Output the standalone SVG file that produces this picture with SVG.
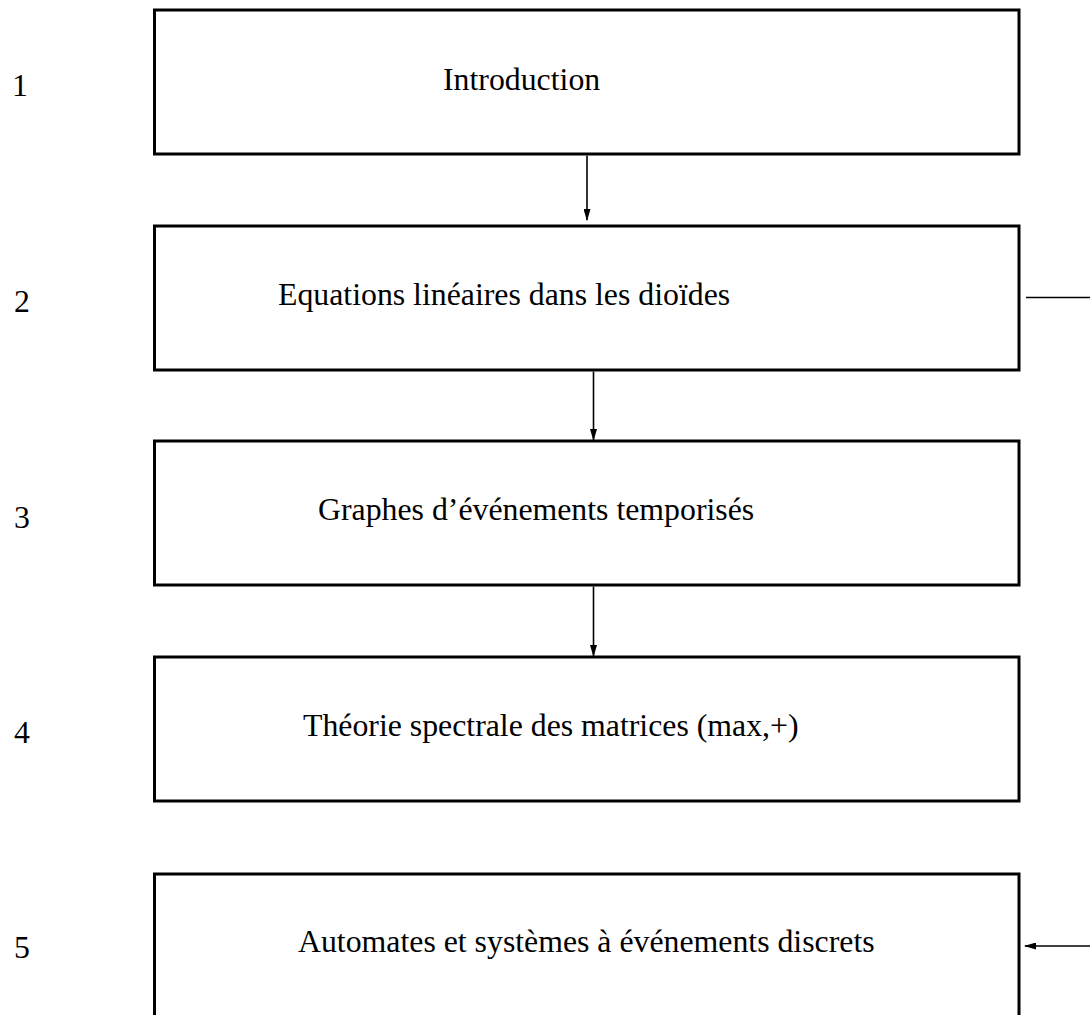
<svg xmlns="http://www.w3.org/2000/svg" width="1090" height="1015" viewBox="0 0 1090 1015">
<defs>
<style>
.box{fill:#fff;stroke:#000;stroke-width:3}
.t{font-family:"Liberation Serif","Times New Roman",serif;font-size:31.8px;fill:#000}
.c{stroke:#000;stroke-width:1.6;fill:none}
</style>
<marker id="ah" markerWidth="12" markerHeight="7" refX="11" refY="3.5" orient="auto" markerUnits="userSpaceOnUse" viewBox="0 0 12 7">
<path d="M0,0 L12,3.5 L0,7 Z" fill="#000"/>
</marker>
</defs>
<rect width="1090" height="1015" fill="#fff"/>
<g id="n1"><rect class="box" x="154.5" y="10" width="864.5" height="144"/><text class="t" x="443" y="90">Introduction</text></g>
<g id="n2"><rect class="box" x="154.5" y="226" width="864.5" height="144"/><text class="t" x="278" y="305">Equations linéaires dans les dioïdes</text></g>
<g id="n3"><rect class="box" x="154.5" y="441" width="864.5" height="144"/><text class="t" x="318" y="520">Graphes d’événements temporisés</text></g>
<g id="n4"><rect class="box" x="154.5" y="657" width="864.5" height="144"/><text class="t" x="303" y="736">Théorie spectrale des matrices (max,+)</text></g>
<g id="n5"><rect class="box" x="154.5" y="874" width="864.5" height="160"/><text class="t" x="298" y="952">Automates et systèmes à événements discrets</text></g>
<g id="labels">
<text class="t" x="12" y="96">1</text>
<text class="t" x="14" y="312">2</text>
<text class="t" x="14" y="528">3</text>
<text class="t" x="14" y="743">4</text>
<text class="t" x="14" y="958">5</text>
</g>
<g id="connectors">
<line class="c" x1="587" y1="155.5" x2="587" y2="220" marker-end="url(#ah)"/>
<line class="c" x1="593.5" y1="371.5" x2="593.5" y2="440" marker-end="url(#ah)"/>
<line class="c" x1="593.5" y1="586.5" x2="593.5" y2="656" marker-end="url(#ah)"/>
<line class="c" x1="1026" y1="297.5" x2="1090" y2="297.5"/>
<line class="c" x1="1090" y1="946" x2="1025" y2="946" marker-end="url(#ah)"/>
</g>
</svg>
